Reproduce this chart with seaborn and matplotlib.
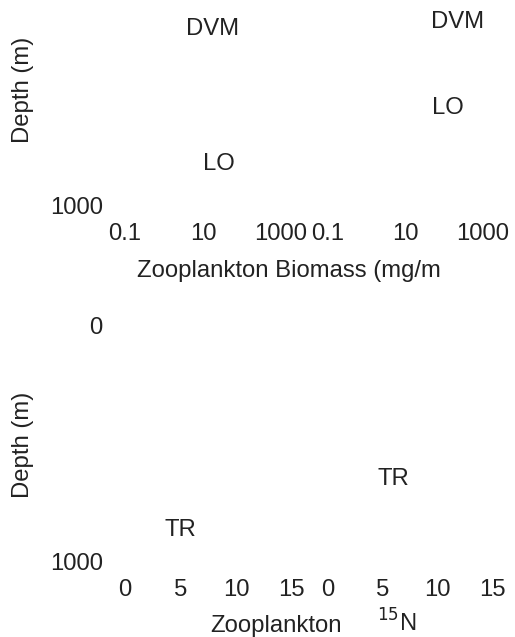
import numpy as np
import pandas as pd
import seaborn as sns
import matplotlib.pyplot as plt

sns.set_style("white")
plt.rcParams['font.family'] = ['Liberation Sans', 'DejaVu Sans']
ink = '#222222'
fs = 17.2

# tick labels
biomass_ticks = [0.1, 10, 1000]
biomass_labels = ["0.1", "10", "1000"]
n15_ticks = [0, 5, 10, 15]
n15_labels = ["0", "5", "10", "15"]
depth_ticks = [0, 1000]
depth_labels = ["0", "1000"]

# annotation labels placed in data coords (x, depth)
top_left_txt = ["DVM", "LO"]
top_left_x = [18, 26]
top_left_y = [253, 823]
top_right_txt = ["DVM", "LO"]
top_right_x = [226, 126]
top_right_y = [224, 586]
bot_left_txt = ["TR"]
bot_left_x = [4.95]
bot_left_y = [865]
bot_right_txt = ["TR"]
bot_right_x = [6.0]
bot_right_y = [650]

W, H = 515, 637
fig = plt.figure(figsize=(W / 100, H / 100), dpi=100)

def box(x0, x1, ytop, ybot):
    return [x0 / W, 1 - ybot / H, (x1 - x0) / W, (ybot - ytop) / H]

ax_tl = fig.add_axes(box(125, 303, -31, 206))
ax_tr = fig.add_axes(box(328, 503, -31, 206))
ax_bl = fig.add_axes(box(125, 303, 325, 562))
ax_br = fig.add_axes(box(328, 503, 325, 562))

panels = [
    (ax_tl, top_left_txt, top_left_x, top_left_y, True, (0.1, 3660), 'top'),
    (ax_tr, top_right_txt, top_right_x, top_right_y, True, (0.1, 3280), None),
    (ax_bl, bot_left_txt, bot_left_x, bot_left_y, False, (0, 16), 'bottom'),
    (ax_br, bot_right_txt, bot_right_x, bot_right_y, False, (0, 16), None),
]

for ax, txt, xs, ys, is_log, xlim, show_y in panels:
    df = pd.DataFrame({"label": txt, "x": xs, "depth": ys})
    if is_log:
        ax.set_xscale('log')
        ax.set_xticks(biomass_ticks)
        ax.set_xticklabels(biomass_labels)
        ax.minorticks_off()
    else:
        ax.set_xticks(n15_ticks)
        ax.set_xticklabels(n15_labels)
    ax.set_xlim(*xlim)
    ax.set_ylim(1000, 0)
    if show_y == 'bottom':
        ax.set_yticks(depth_ticks)
        ax.set_yticklabels(depth_labels)
    elif show_y == 'top':
        # the 0 label of the upper panel falls outside the figure
        ax.set_yticks(depth_ticks[1:])
        ax.set_yticklabels(depth_labels[1:])
    else:
        ax.set_yticks([])
    for _, r in df.iterrows():
        ax.text(r["x"], r["depth"], r["label"], ha='center', va='center',
                fontsize=fs, color=ink)
    ax.tick_params(axis='x', length=0, pad=12, labelsize=fs, labelcolor=ink)
    ax.tick_params(axis='y', length=0, pad=16, labelsize=fs, labelcolor=ink)
    ax.patch.set_alpha(0)
    sns.despine(ax=ax, left=True, bottom=True)

fig.text(23 / W, 1 - 90 / H, "Depth (m)", rotation=90, ha='center', va='center',
         fontsize=fs, color=ink)
fig.text(23 / W, 1 - 445 / H, "Depth (m)", rotation=90, ha='center', va='center',
         fontsize=fs, color=ink)
fig.text(137 / W, 1 - 277 / H, "Zooplankton Biomass (mg/m", ha='left', va='baseline',
         fontsize=fs, color=ink)
fig.text(210 / W, 1 - 632 / H, "Zooplankton", ha='left', va='baseline',
         fontsize=fs, color=ink)
fig.text(377 / W, 1 - 632 / H, "$^{15}$N", ha='left', va='baseline',
         fontsize=fs, color=ink)

fig.savefig('out.png', dpi=100)
